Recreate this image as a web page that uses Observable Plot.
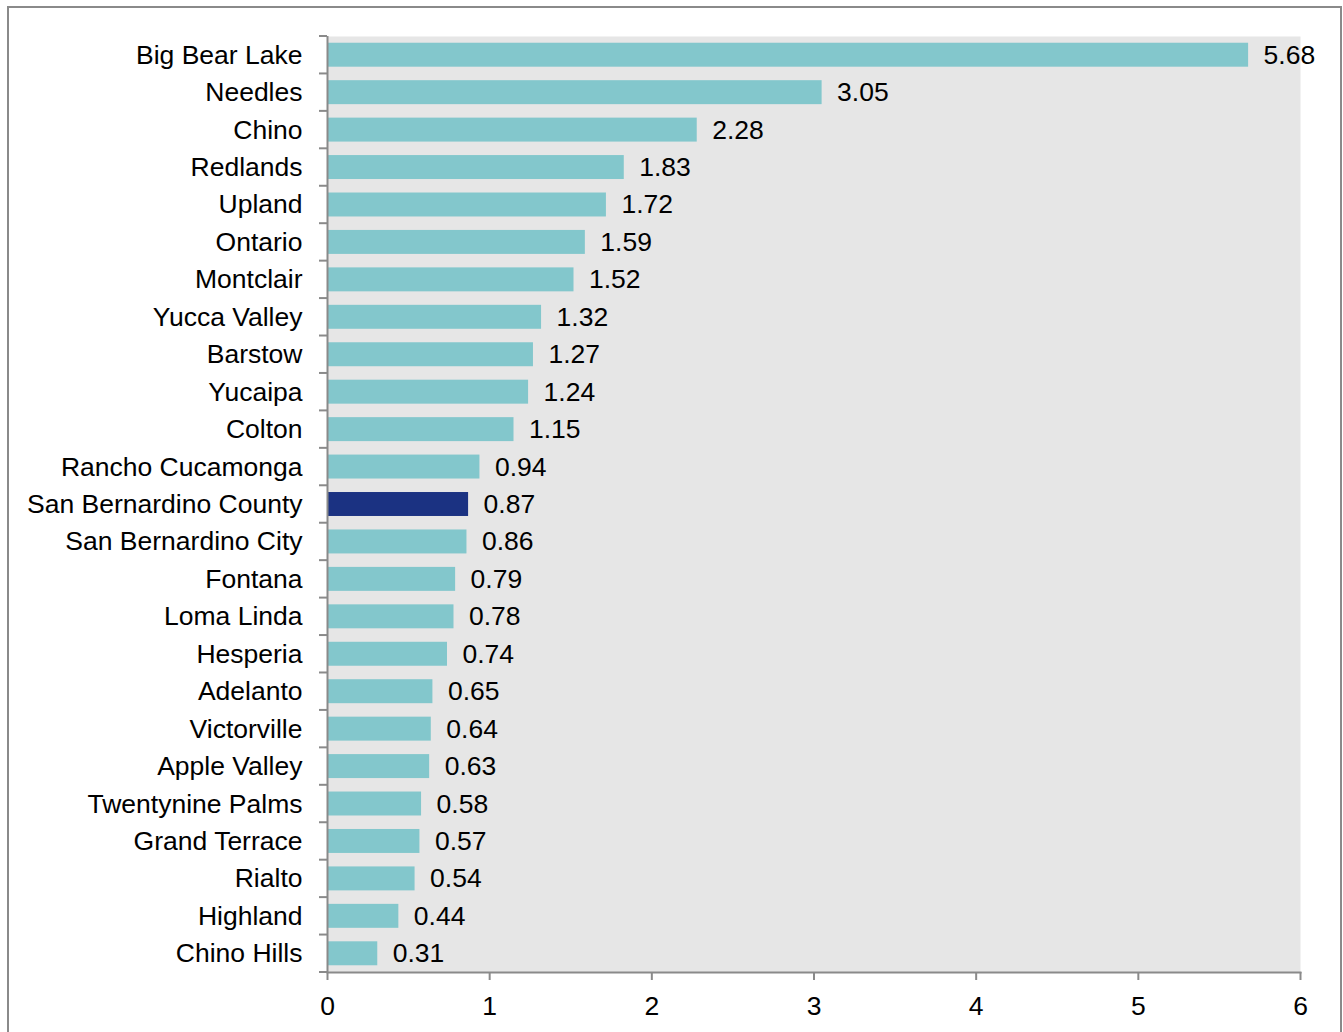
<!DOCTYPE html>
<html>
<head>
<meta charset="utf-8">
<script src="https://cdn.jsdelivr.net/npm/d3@7"></script>
<script src="https://cdn.jsdelivr.net/npm/@observablehq/plot@0.6"></script>
<style>
  html, body { margin: 0; padding: 0; background: #fff; overflow: hidden; }
  #border { position: absolute; left: 7px; top: 6px; width: 1331px; height: 1100px; border: 2px solid #8a8a8a; }
  #chart { position: absolute; left: 0; top: 0; }
</style>
</head>
<body>
<div id="border"></div>
<div id="chart"></div>
<script>
const cities = ["Big Bear Lake","Needles","Chino","Redlands","Upland","Ontario","Montclair","Yucca Valley","Barstow","Yucaipa","Colton","Rancho Cucamonga","San Bernardino County","San Bernardino City","Fontana","Loma Linda","Hesperia","Adelanto","Victorville","Apple Valley","Twentynine Palms","Grand Terrace","Rialto","Highland","Chino Hills"];
const values = [5.68,3.05,2.28,1.83,1.72,1.59,1.52,1.32,1.27,1.24,1.15,0.94,0.87,0.86,0.79,0.78,0.74,0.65,0.64,0.63,0.58,0.57,0.54,0.44,0.31];
const highlight = "San Bernardino County";
const xTicks = [0,1,2,3,4,5,6];

const data = cities.map((c, i) => ({city: c, value: values[i]}));
const axisGray = "#8a8a8a";
const fs = 26.5;

const chart = Plot.plot({
  width: 1343,
  height: 1032,
  marginLeft: 327,
  marginRight: 43,
  marginTop: 36,
  marginBottom: 60,
  style: {fontFamily: "'Liberation Sans', Arial, sans-serif", fontSize: fs + "px", color: "#000", background: "transparent"},
  x: {domain: [0, 6]},
  y: {domain: cities, paddingInner: 0.36, paddingOuter: 0.18, round: false},
  marks: [
    Plot.frame({fill: "#e6e6e6", stroke: null}),
    Plot.barX(data, {x: "value", y: "city", fill: d => d.city === highlight ? "#1b3282" : "#83c7cc"}),
    Plot.text(data, {x: "value", y: "city", text: d => d.value.toFixed(2), dx: 15, textAnchor: "start", fontSize: fs, fill: "#000"}),
    Plot.ruleX([0], {stroke: axisGray, strokeWidth: 2}),
    Plot.frame({anchor: "bottom", stroke: axisGray, strokeWidth: 2}),
    Plot.axisX({ticks: xTicks, tickFormat: d => String(d), tickSize: 8, tickPadding: 16, stroke: axisGray, strokeWidth: 2, fill: "#000", fontSize: fs, label: null}),
    Plot.axisY({tickSize: 0, tickPadding: 25, fill: "#000", fontSize: fs, label: null})
  ]
});

// boundary tick marks on the category axis, positioned from the band scale
const ys = chart.scale("y");
const xs = chart.scale("x");
const x0 = xs.apply(0);
const start = ys.apply(cities[0]) - ys.step * 0.18;
const g = d3.select(chart).append("g").attr("stroke", axisGray).attr("stroke-width", 2);
for (let i = 0; i <= cities.length; i++) {
  const yy = start + i * ys.step;
  g.append("line").attr("x1", x0 - 8).attr("x2", x0).attr("y1", yy).attr("y2", yy);
}

document.getElementById("chart").appendChild(chart);
</script>
</body>
</html>
